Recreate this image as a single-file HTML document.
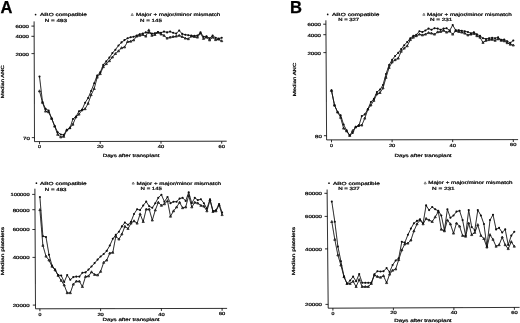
<!DOCTYPE html>
<html lang="en">
<head>
<meta charset="utf-8">
<title>Median ANC and platelet counts after transplant</title>
<style>
html,body{margin:0;padding:0;background:#fff;}
body{width:520px;height:323px;overflow:hidden;font-family:"Liberation Sans",sans-serif;}
svg{display:block;}
</style>
</head>
<body>
<svg width="520" height="323" viewBox="0 0 520 323">
<defs><filter id="soft" x="0" y="0" width="520" height="323" filterUnits="userSpaceOnUse"><feGaussianBlur stdDeviation="0.27"/></filter></defs>
<rect width="520" height="323" fill="#fff"/>
<g font-family="'Liberation Sans', sans-serif" fill="#0a0a0a" stroke="#0a0a0a" stroke-width="0.23" text-rendering="geometricPrecision" font-size="4.45" filter="url(#soft)">
<text x="0.55" y="13.3" font-size="17.4" font-weight="bold" stroke="#000" stroke-width="0.3" fill="#000" textLength="11.9" lengthAdjust="spacingAndGlyphs">A</text>
<text x="290.1" y="12.8" font-size="17.4" font-weight="bold" stroke="#000" stroke-width="0.3" fill="#000" textLength="12.0" lengthAdjust="spacingAndGlyphs">B</text>
<g stroke="#0a0a0a" stroke-width="0.85" fill="none">
<path d="M34.1 21.4L34.5 141.6L226.7 141.2"/>
<path d="M34.1 26.1h-2.7"/>
<path d="M34.1 36.3h-2.7"/>
<path d="M34.2 53.6h-2.7"/>
<path d="M34.5 137.6h-2.7"/>
<path d="M39.5 141.6v2.4"/>
<path d="M100.2 141.5v2.4"/>
<path d="M161.0 141.3v2.4"/>
<path d="M221.7 141.2v2.4"/>
</g>
<text x="15.5" y="28.0" textLength="13.5" lengthAdjust="spacingAndGlyphs">6000</text>
<text x="15.5" y="38.2" textLength="13.5" lengthAdjust="spacingAndGlyphs">4000</text>
<text x="15.5" y="55.5" textLength="13.5" lengthAdjust="spacingAndGlyphs">2000</text>
<text x="23.0" y="139.5" textLength="6.8" lengthAdjust="spacingAndGlyphs">70</text>
<text x="38.0" y="148.2" textLength="2.9" lengthAdjust="spacingAndGlyphs">0</text>
<text x="97.0" y="148.1" textLength="6.4" lengthAdjust="spacingAndGlyphs">20</text>
<text x="157.8" y="147.9" textLength="6.4" lengthAdjust="spacingAndGlyphs">40</text>
<text x="218.5" y="147.8" textLength="6.4" lengthAdjust="spacingAndGlyphs">60</text>
<text x="102.7" y="157.2" textLength="56.8" lengthAdjust="spacingAndGlyphs">Days after transplant</text>
<text transform="translate(4.0 81.8) rotate(-90)" text-anchor="middle" textLength="32.9" lengthAdjust="spacingAndGlyphs">Median ANC</text>
<circle cx="35.6" cy="14.6" r="0.85" fill="#111" stroke="none"/>
<text x="40.0" y="16.0" textLength="46.9" lengthAdjust="spacingAndGlyphs">ABO compatible</text>
<text x="44.8" y="21.5" textLength="22.1" lengthAdjust="spacingAndGlyphs">N = 493</text>
<path d="M132.2 13.4l1.1 2.1h-2.2z" fill="none" stroke="#111" stroke-width="0.5"/>
<text x="136.0" y="16.0" textLength="84.3" lengthAdjust="spacingAndGlyphs">Major + major/minor mismatch</text>
<text x="140.0" y="21.5" textLength="21.9" lengthAdjust="spacingAndGlyphs">N = 145</text>
<polyline points="39.5,76.6 42.5,102.0 45.6,108.9 48.6,110.5 51.6,118.2 54.7,126.0 57.7,132.2 60.8,134.5 63.8,134.9 66.8,129.8 69.9,128.3 72.9,119.0 75.9,116.7 79.0,111.3 82.0,109.7 85.1,102.7 88.1,98.1 91.1,91.0 94.2,83.3 97.2,75.5 100.2,72.4 103.3,64.9 106.3,61.2 109.4,57.6 112.4,53.1 115.4,49.7 118.5,45.5 121.5,42.4 124.5,40.1 127.6,38.3 130.6,37.3 133.6,36.7 136.7,35.5 139.7,34.2 142.8,33.6 145.8,32.4 148.8,32.7 151.9,33.6 154.9,33.2 157.9,32.1 161.0,32.7 164.0,31.6 167.1,32.4 170.1,31.6 173.1,32.7 176.2,33.6 179.2,30.5 182.2,33.9 185.3,34.7 188.3,35.2 191.3,35.5 194.4,35.8 197.4,35.5 200.5,32.4 203.5,36.7 206.5,36.3 209.6,38.3 212.6,35.5 215.6,37.8 218.7,38.6 221.7,37.8" fill="none" stroke="#0a0a0a" stroke-width="0.85" stroke-linejoin="round"/>
<polyline points="39.5,91.0 42.5,102.5 45.6,111.3 48.6,112.0 51.6,118.5 54.7,126.3 57.7,134.5 60.8,137.1 63.8,136.5 66.8,130.1 69.9,127.8 72.9,124.4 75.9,117.0 79.0,114.3 82.0,110.0 85.1,108.9 88.1,103.5 91.1,94.9 94.2,88.7 97.2,77.3 100.2,73.8 103.3,66.9 106.3,63.8 109.4,60.9 112.4,57.2 115.4,53.7 118.5,51.0 121.5,47.9 124.5,47.1 127.6,41.7 130.6,41.4 133.6,40.1 136.7,36.3 139.7,35.5 142.8,34.7 145.8,36.3 148.8,30.1 151.9,35.5 154.9,34.7 157.9,32.4 161.0,34.2 164.0,35.5 167.1,38.3 170.1,37.3 173.1,36.7 176.2,36.3 179.2,35.5 182.2,36.7 185.3,38.3 188.3,38.9 191.3,36.3 194.4,36.7 197.4,37.3 200.5,33.2 203.5,38.6 206.5,37.3 209.6,40.1 212.6,37.3 215.6,39.8 218.7,39.3 221.7,40.9" fill="none" stroke="#0a0a0a" stroke-width="0.85" stroke-linejoin="round"/>
<path d="M39.5 89.8l1.1 2h-2.2zM42.5 101.3l1.1 2h-2.2zM45.6 110.1l1.1 2h-2.2zM48.6 110.8l1.1 2h-2.2zM51.6 117.3l1.1 2h-2.2zM54.7 125.1l1.1 2h-2.2zM57.7 133.3l1.1 2h-2.2zM60.8 135.9l1.1 2h-2.2zM63.8 135.3l1.1 2h-2.2zM66.8 128.9l1.1 2h-2.2zM69.9 126.6l1.1 2h-2.2zM72.9 123.2l1.1 2h-2.2zM75.9 115.8l1.1 2h-2.2zM79.0 113.1l1.1 2h-2.2zM82.0 108.8l1.1 2h-2.2zM85.1 107.7l1.1 2h-2.2zM88.1 102.3l1.1 2h-2.2zM91.1 93.7l1.1 2h-2.2zM94.2 87.5l1.1 2h-2.2zM97.2 76.1l1.1 2h-2.2zM100.2 72.6l1.1 2h-2.2zM103.3 65.7l1.1 2h-2.2zM106.3 62.6l1.1 2h-2.2zM109.4 59.7l1.1 2h-2.2zM112.4 56.0l1.1 2h-2.2zM115.4 52.5l1.1 2h-2.2zM118.5 49.8l1.1 2h-2.2zM121.5 46.7l1.1 2h-2.2zM124.5 45.9l1.1 2h-2.2zM127.6 40.5l1.1 2h-2.2zM130.6 40.2l1.1 2h-2.2zM133.6 38.9l1.1 2h-2.2zM136.7 35.1l1.1 2h-2.2zM139.7 34.3l1.1 2h-2.2zM142.8 33.5l1.1 2h-2.2zM145.8 35.1l1.1 2h-2.2zM148.8 28.9l1.1 2h-2.2zM151.9 34.3l1.1 2h-2.2zM154.9 33.5l1.1 2h-2.2zM157.9 31.2l1.1 2h-2.2zM161.0 33.0l1.1 2h-2.2zM164.0 34.3l1.1 2h-2.2zM167.1 37.1l1.1 2h-2.2zM170.1 36.1l1.1 2h-2.2zM173.1 35.5l1.1 2h-2.2zM176.2 35.1l1.1 2h-2.2zM179.2 34.3l1.1 2h-2.2zM182.2 35.5l1.1 2h-2.2zM185.3 37.1l1.1 2h-2.2zM188.3 37.7l1.1 2h-2.2zM191.3 35.1l1.1 2h-2.2zM194.4 35.5l1.1 2h-2.2zM197.4 36.1l1.1 2h-2.2zM200.5 32.0l1.1 2h-2.2zM203.5 37.4l1.1 2h-2.2zM206.5 36.1l1.1 2h-2.2zM209.6 38.9l1.1 2h-2.2zM212.6 36.1l1.1 2h-2.2zM215.6 38.6l1.1 2h-2.2zM218.7 38.1l1.1 2h-2.2zM221.7 39.7l1.1 2h-2.2z" fill="#0a0a0a" fill-opacity="0.45" stroke="#0a0a0a" stroke-width="0.7" stroke-linejoin="round"/>
<g fill="#0a0a0a" stroke="none"><circle cx="39.5" cy="76.6" r="1.05"/><circle cx="42.5" cy="102.0" r="1.05"/><circle cx="45.6" cy="108.9" r="1.05"/><circle cx="48.6" cy="110.5" r="1.05"/><circle cx="51.6" cy="118.2" r="1.05"/><circle cx="54.7" cy="126.0" r="1.05"/><circle cx="57.7" cy="132.2" r="1.05"/><circle cx="60.8" cy="134.5" r="1.05"/><circle cx="63.8" cy="134.9" r="1.05"/><circle cx="66.8" cy="129.8" r="1.05"/><circle cx="69.9" cy="128.3" r="1.05"/><circle cx="72.9" cy="119.0" r="1.05"/><circle cx="75.9" cy="116.7" r="1.05"/><circle cx="79.0" cy="111.3" r="1.05"/><circle cx="82.0" cy="109.7" r="1.05"/><circle cx="85.1" cy="102.7" r="1.05"/><circle cx="88.1" cy="98.1" r="1.05"/><circle cx="91.1" cy="91.0" r="1.05"/><circle cx="94.2" cy="83.3" r="1.05"/><circle cx="97.2" cy="75.5" r="1.05"/><circle cx="100.2" cy="72.4" r="1.05"/><circle cx="103.3" cy="64.9" r="1.05"/><circle cx="106.3" cy="61.2" r="1.05"/><circle cx="109.4" cy="57.6" r="1.05"/><circle cx="112.4" cy="53.1" r="1.05"/><circle cx="115.4" cy="49.7" r="1.05"/><circle cx="118.5" cy="45.5" r="1.05"/><circle cx="121.5" cy="42.4" r="1.05"/><circle cx="124.5" cy="40.1" r="1.05"/><circle cx="127.6" cy="38.3" r="1.05"/><circle cx="130.6" cy="37.3" r="1.05"/><circle cx="133.6" cy="36.7" r="1.05"/><circle cx="136.7" cy="35.5" r="1.05"/><circle cx="139.7" cy="34.2" r="1.05"/><circle cx="142.8" cy="33.6" r="1.05"/><circle cx="145.8" cy="32.4" r="1.05"/><circle cx="148.8" cy="32.7" r="1.05"/><circle cx="151.9" cy="33.6" r="1.05"/><circle cx="154.9" cy="33.2" r="1.05"/><circle cx="157.9" cy="32.1" r="1.05"/><circle cx="161.0" cy="32.7" r="1.05"/><circle cx="164.0" cy="31.6" r="1.05"/><circle cx="167.1" cy="32.4" r="1.05"/><circle cx="170.1" cy="31.6" r="1.05"/><circle cx="173.1" cy="32.7" r="1.05"/><circle cx="176.2" cy="33.6" r="1.05"/><circle cx="179.2" cy="30.5" r="1.05"/><circle cx="182.2" cy="33.9" r="1.05"/><circle cx="185.3" cy="34.7" r="1.05"/><circle cx="188.3" cy="35.2" r="1.05"/><circle cx="191.3" cy="35.5" r="1.05"/><circle cx="194.4" cy="35.8" r="1.05"/><circle cx="197.4" cy="35.5" r="1.05"/><circle cx="200.5" cy="32.4" r="1.05"/><circle cx="203.5" cy="36.7" r="1.05"/><circle cx="206.5" cy="36.3" r="1.05"/><circle cx="209.6" cy="38.3" r="1.05"/><circle cx="212.6" cy="35.5" r="1.05"/><circle cx="215.6" cy="37.8" r="1.05"/><circle cx="218.7" cy="38.6" r="1.05"/><circle cx="221.7" cy="37.8" r="1.05"/></g>
<g stroke="#0a0a0a" stroke-width="0.85" fill="none">
<path d="M325.9 20.3L326.6 139.9L518.1 139.6"/>
<path d="M325.9 24.2h-2.7"/>
<path d="M326.0 34.7h-2.7"/>
<path d="M326.1 52.6h-2.7"/>
<path d="M326.6 135.7h-2.7"/>
<path d="M331.5 139.9v2.4"/>
<path d="M392.1 139.8v2.4"/>
<path d="M452.7 139.7v2.4"/>
<path d="M513.3 139.6v2.4"/>
</g>
<text x="307.5" y="26.1" textLength="13.5" lengthAdjust="spacingAndGlyphs">6000</text>
<text x="307.5" y="36.6" textLength="13.5" lengthAdjust="spacingAndGlyphs">4000</text>
<text x="307.5" y="54.5" textLength="13.5" lengthAdjust="spacingAndGlyphs">2000</text>
<text x="315.0" y="137.6" textLength="6.8" lengthAdjust="spacingAndGlyphs">80</text>
<text x="330.1" y="146.7" textLength="2.9" lengthAdjust="spacingAndGlyphs">0</text>
<text x="388.9" y="146.6" textLength="6.4" lengthAdjust="spacingAndGlyphs">20</text>
<text x="449.5" y="146.5" textLength="6.4" lengthAdjust="spacingAndGlyphs">40</text>
<text x="510.1" y="146.4" textLength="6.4" lengthAdjust="spacingAndGlyphs">60</text>
<text x="394.5" y="157.2" textLength="57.1" lengthAdjust="spacingAndGlyphs">Days after transplant</text>
<text transform="translate(296.0 79.5) rotate(-90)" text-anchor="middle" textLength="33.5" lengthAdjust="spacingAndGlyphs">Median ANC</text>
<circle cx="327.7" cy="14.4" r="0.85" fill="#111" stroke="none"/>
<text x="332.0" y="15.8" textLength="47.3" lengthAdjust="spacingAndGlyphs">ABO compatible</text>
<text x="338.2" y="20.6" textLength="21.0" lengthAdjust="spacingAndGlyphs">N = 327</text>
<path d="M423.9 13.2l1.1 2.1h-2.2z" fill="none" stroke="#111" stroke-width="0.5"/>
<text x="427.0" y="15.8" textLength="84.7" lengthAdjust="spacingAndGlyphs">Major + major/minor mismatch</text>
<text x="429.9" y="20.8" textLength="22.5" lengthAdjust="spacingAndGlyphs">N = 231</text>
<polyline points="331.5,90.4 334.5,105.1 337.6,112.1 340.6,115.2 343.6,124.5 346.6,130.4 349.7,135.5 352.7,133.0 355.7,126.8 358.8,126.0 361.8,116.0 364.8,114.4 367.9,109.0 370.9,102.0 373.9,98.9 376.9,92.0 380.0,89.6 383.0,85.0 386.0,74.0 389.1,65.0 392.1,59.9 395.1,56.0 398.2,52.9 401.2,49.1 404.2,45.2 407.2,42.1 410.3,38.2 413.3,35.9 416.3,34.8 419.4,31.3 422.4,32.0 425.4,30.5 428.5,28.6 431.5,29.7 434.5,28.2 437.6,28.6 440.6,29.7 443.6,28.6 446.6,28.2 449.7,30.5 452.7,25.1 455.7,30.2 458.8,30.2 461.8,30.8 464.8,31.3 467.9,32.0 470.9,33.3 473.9,32.3 476.9,34.3 480.0,35.9 483.0,38.2 486.0,39.0 489.1,38.2 492.1,37.9 495.1,38.2 498.1,37.4 501.2,39.8 504.2,39.5 507.2,41.3 510.3,42.9 513.3,40.5" fill="none" stroke="#0a0a0a" stroke-width="0.85" stroke-linejoin="round"/>
<polyline points="331.5,90.6 334.5,105.3 337.6,112.2 340.6,117.5 343.6,128.3 346.6,131.1 349.7,135.6 352.7,130.7 355.7,127.1 358.8,125.2 361.8,125.2 364.8,118.3 367.9,109.3 370.9,105.1 373.9,100.5 376.9,94.0 380.0,92.7 383.0,88.1 386.0,77.5 389.1,67.6 392.1,62.2 395.1,59.9 398.2,58.3 401.2,51.4 404.2,48.3 407.2,46.0 410.3,39.8 413.3,37.4 416.3,35.9 419.4,34.3 422.4,35.1 425.4,34.3 428.5,32.8 431.5,33.3 434.5,34.3 437.6,32.0 440.6,31.7 443.6,30.5 446.6,32.3 449.7,31.3 452.7,34.3 455.7,30.8 458.8,31.7 461.8,32.3 464.8,33.3 467.9,35.1 470.9,34.3 473.9,33.6 476.9,35.9 480.0,37.4 483.0,42.6 486.0,40.5 489.1,39.8 492.1,39.5 495.1,40.5 498.1,39.0 501.2,40.5 504.2,41.0 507.2,42.9 510.3,44.4 513.3,45.2" fill="none" stroke="#0a0a0a" stroke-width="0.85" stroke-linejoin="round"/>
<path d="M331.5 89.4l1.1 2h-2.2zM334.5 104.1l1.1 2h-2.2zM337.6 111.0l1.1 2h-2.2zM340.6 116.3l1.1 2h-2.2zM343.6 127.1l1.1 2h-2.2zM346.6 129.9l1.1 2h-2.2zM349.7 134.4l1.1 2h-2.2zM352.7 129.5l1.1 2h-2.2zM355.7 125.9l1.1 2h-2.2zM358.8 124.0l1.1 2h-2.2zM361.8 124.0l1.1 2h-2.2zM364.8 117.1l1.1 2h-2.2zM367.9 108.1l1.1 2h-2.2zM370.9 103.9l1.1 2h-2.2zM373.9 99.3l1.1 2h-2.2zM376.9 92.8l1.1 2h-2.2zM380.0 91.5l1.1 2h-2.2zM383.0 86.9l1.1 2h-2.2zM386.0 76.3l1.1 2h-2.2zM389.1 66.4l1.1 2h-2.2zM392.1 61.0l1.1 2h-2.2zM395.1 58.7l1.1 2h-2.2zM398.2 57.1l1.1 2h-2.2zM401.2 50.2l1.1 2h-2.2zM404.2 47.1l1.1 2h-2.2zM407.2 44.8l1.1 2h-2.2zM410.3 38.6l1.1 2h-2.2zM413.3 36.2l1.1 2h-2.2zM416.3 34.7l1.1 2h-2.2zM419.4 33.1l1.1 2h-2.2zM422.4 33.9l1.1 2h-2.2zM425.4 33.1l1.1 2h-2.2zM428.5 31.6l1.1 2h-2.2zM431.5 32.1l1.1 2h-2.2zM434.5 33.1l1.1 2h-2.2zM437.6 30.8l1.1 2h-2.2zM440.6 30.5l1.1 2h-2.2zM443.6 29.3l1.1 2h-2.2zM446.6 31.1l1.1 2h-2.2zM449.7 30.1l1.1 2h-2.2zM452.7 33.1l1.1 2h-2.2zM455.7 29.6l1.1 2h-2.2zM458.8 30.5l1.1 2h-2.2zM461.8 31.1l1.1 2h-2.2zM464.8 32.1l1.1 2h-2.2zM467.9 33.9l1.1 2h-2.2zM470.9 33.1l1.1 2h-2.2zM473.9 32.4l1.1 2h-2.2zM476.9 34.7l1.1 2h-2.2zM480.0 36.2l1.1 2h-2.2zM483.0 41.4l1.1 2h-2.2zM486.0 39.3l1.1 2h-2.2zM489.1 38.6l1.1 2h-2.2zM492.1 38.3l1.1 2h-2.2zM495.1 39.3l1.1 2h-2.2zM498.1 37.8l1.1 2h-2.2zM501.2 39.3l1.1 2h-2.2zM504.2 39.8l1.1 2h-2.2zM507.2 41.7l1.1 2h-2.2zM510.3 43.2l1.1 2h-2.2zM513.3 44.0l1.1 2h-2.2z" fill="#0a0a0a" fill-opacity="0.45" stroke="#0a0a0a" stroke-width="0.7" stroke-linejoin="round"/>
<g fill="#0a0a0a" stroke="none"><circle cx="331.5" cy="90.4" r="1.05"/><circle cx="334.5" cy="105.1" r="1.05"/><circle cx="337.6" cy="112.1" r="1.05"/><circle cx="340.6" cy="115.2" r="1.05"/><circle cx="343.6" cy="124.5" r="1.05"/><circle cx="346.6" cy="130.4" r="1.05"/><circle cx="349.7" cy="135.5" r="1.05"/><circle cx="352.7" cy="133.0" r="1.05"/><circle cx="355.7" cy="126.8" r="1.05"/><circle cx="358.8" cy="126.0" r="1.05"/><circle cx="361.8" cy="116.0" r="1.05"/><circle cx="364.8" cy="114.4" r="1.05"/><circle cx="367.9" cy="109.0" r="1.05"/><circle cx="370.9" cy="102.0" r="1.05"/><circle cx="373.9" cy="98.9" r="1.05"/><circle cx="376.9" cy="92.0" r="1.05"/><circle cx="380.0" cy="89.6" r="1.05"/><circle cx="383.0" cy="85.0" r="1.05"/><circle cx="386.0" cy="74.0" r="1.05"/><circle cx="389.1" cy="65.0" r="1.05"/><circle cx="392.1" cy="59.9" r="1.05"/><circle cx="395.1" cy="56.0" r="1.05"/><circle cx="398.2" cy="52.9" r="1.05"/><circle cx="401.2" cy="49.1" r="1.05"/><circle cx="404.2" cy="45.2" r="1.05"/><circle cx="407.2" cy="42.1" r="1.05"/><circle cx="410.3" cy="38.2" r="1.05"/><circle cx="413.3" cy="35.9" r="1.05"/><circle cx="416.3" cy="34.8" r="1.05"/><circle cx="419.4" cy="31.3" r="1.05"/><circle cx="422.4" cy="32.0" r="1.05"/><circle cx="425.4" cy="30.5" r="1.05"/><circle cx="428.5" cy="28.6" r="1.05"/><circle cx="431.5" cy="29.7" r="1.05"/><circle cx="434.5" cy="28.2" r="1.05"/><circle cx="437.6" cy="28.6" r="1.05"/><circle cx="440.6" cy="29.7" r="1.05"/><circle cx="443.6" cy="28.6" r="1.05"/><circle cx="446.6" cy="28.2" r="1.05"/><circle cx="449.7" cy="30.5" r="1.05"/><circle cx="452.7" cy="25.1" r="1.05"/><circle cx="455.7" cy="30.2" r="1.05"/><circle cx="458.8" cy="30.2" r="1.05"/><circle cx="461.8" cy="30.8" r="1.05"/><circle cx="464.8" cy="31.3" r="1.05"/><circle cx="467.9" cy="32.0" r="1.05"/><circle cx="470.9" cy="33.3" r="1.05"/><circle cx="473.9" cy="32.3" r="1.05"/><circle cx="476.9" cy="34.3" r="1.05"/><circle cx="480.0" cy="35.9" r="1.05"/><circle cx="483.0" cy="38.2" r="1.05"/><circle cx="486.0" cy="39.0" r="1.05"/><circle cx="489.1" cy="38.2" r="1.05"/><circle cx="492.1" cy="37.9" r="1.05"/><circle cx="495.1" cy="38.2" r="1.05"/><circle cx="498.1" cy="37.4" r="1.05"/><circle cx="501.2" cy="39.8" r="1.05"/><circle cx="504.2" cy="39.5" r="1.05"/><circle cx="507.2" cy="41.3" r="1.05"/><circle cx="510.3" cy="42.9" r="1.05"/><circle cx="513.3" cy="40.5" r="1.05"/></g>
<g stroke="#0a0a0a" stroke-width="0.85" fill="none">
<path d="M34.9 188.7L35.5 308.8L227.1 308.4"/>
<path d="M34.9 194.4h-2.7"/>
<path d="M35.0 209.7h-2.7"/>
<path d="M35.1 229.5h-2.7"/>
<path d="M35.2 257.4h-2.7"/>
<path d="M35.5 305.1h-2.7"/>
<path d="M39.9 308.8v2.4"/>
<path d="M100.6 308.7v2.4"/>
<path d="M161.4 308.5v2.4"/>
<path d="M222.1 308.4v2.4"/>
</g>
<text x="10.6" y="196.3" textLength="19.0" lengthAdjust="spacingAndGlyphs">100000</text>
<text x="12.7" y="211.6" textLength="16.9" lengthAdjust="spacingAndGlyphs">80000</text>
<text x="12.7" y="231.4" textLength="16.9" lengthAdjust="spacingAndGlyphs">60000</text>
<text x="12.7" y="259.3" textLength="16.9" lengthAdjust="spacingAndGlyphs">40000</text>
<text x="12.7" y="307.0" textLength="16.9" lengthAdjust="spacingAndGlyphs">20000</text>
<text x="38.4" y="315.8" textLength="2.9" lengthAdjust="spacingAndGlyphs">0</text>
<text x="97.4" y="315.7" textLength="6.4" lengthAdjust="spacingAndGlyphs">20</text>
<text x="158.2" y="315.5" textLength="6.4" lengthAdjust="spacingAndGlyphs">40</text>
<text x="218.9" y="315.4" textLength="6.4" lengthAdjust="spacingAndGlyphs">60</text>
<text x="102.6" y="321.2" textLength="57.0" lengthAdjust="spacingAndGlyphs">Days after transplant</text>
<text transform="translate(4.4 251.2) rotate(-90)" text-anchor="middle" textLength="48.3" lengthAdjust="spacingAndGlyphs">Median platelets</text>
<circle cx="36.4" cy="183.2" r="0.85" fill="#111" stroke="none"/>
<text x="40.0" y="184.6" textLength="46.6" lengthAdjust="spacingAndGlyphs">ABO compatible</text>
<text x="44.8" y="190.7" textLength="21.7" lengthAdjust="spacingAndGlyphs">N = 493</text>
<path d="M133.2 182.0l1.1 2.1h-2.2z" fill="none" stroke="#111" stroke-width="0.5"/>
<text x="136.5" y="184.6" textLength="84.5" lengthAdjust="spacingAndGlyphs">Major + major/minor mismatch</text>
<text x="140.6" y="190.4" textLength="21.4" lengthAdjust="spacingAndGlyphs">N = 145</text>
<polyline points="39.9,197.0 42.9,236.2 46.0,237.0 49.0,254.8 52.0,265.6 55.1,269.6 58.1,275.1 61.2,275.5 64.2,282.0 67.2,275.1 70.3,279.7 73.3,277.1 76.3,276.6 79.4,276.6 82.4,272.7 85.5,272.4 88.5,269.6 91.5,266.5 94.6,263.1 97.6,259.6 100.6,256.5 103.7,254.0 106.7,250.9 109.8,245.5 112.8,238.8 115.8,234.9 118.9,231.8 121.9,226.4 124.9,222.5 128.0,224.8 131.0,221.7 134.0,214.0 137.1,209.3 140.1,210.1 143.2,205.5 146.2,201.6 149.2,206.3 152.3,207.8 155.3,203.2 158.3,197.7 161.4,194.7 164.4,201.7 167.5,197.0 170.5,203.2 173.5,201.7 176.6,201.7 179.6,198.6 182.6,197.8 185.7,200.9 188.7,192.4 191.8,203.2 194.8,197.8 197.8,200.1 200.9,199.3 203.9,203.2 206.9,208.6 210.0,199.3 213.0,211.0 216.0,210.2 219.1,204.0 222.1,212.5" fill="none" stroke="#0a0a0a" stroke-width="0.85" stroke-linejoin="round"/>
<polyline points="39.9,209.8 42.9,245.5 46.0,256.3 49.0,260.2 52.0,266.4 55.1,270.0 58.1,275.5 61.2,280.5 64.2,285.1 67.2,292.9 70.3,292.9 73.3,284.3 76.3,281.3 79.4,281.3 82.4,286.7 85.5,276.6 88.5,276.1 91.5,272.0 94.6,274.6 97.6,275.1 100.6,271.5 103.7,262.5 106.7,260.2 109.8,253.2 112.8,252.5 115.8,236.4 118.9,239.2 121.9,234.1 124.9,226.4 128.0,228.7 131.0,223.3 134.0,221.0 137.1,223.3 140.1,214.0 143.2,221.7 146.2,209.3 149.2,209.3 152.3,220.2 155.3,210.1 158.3,202.4 161.4,205.5 164.4,204.0 167.5,200.9 170.5,216.4 173.5,211.0 176.6,207.1 179.6,202.4 182.6,207.9 185.7,207.1 188.7,195.5 191.8,207.1 194.8,202.4 197.8,203.2 200.9,205.5 203.9,206.3 206.9,211.0 210.0,200.1 213.0,211.7 216.0,211.0 219.1,204.8 222.1,214.8" fill="none" stroke="#0a0a0a" stroke-width="0.85" stroke-linejoin="round"/>
<path d="M39.9 208.6l1.1 2h-2.2zM42.9 244.3l1.1 2h-2.2zM46.0 255.1l1.1 2h-2.2zM49.0 259.0l1.1 2h-2.2zM52.0 265.2l1.1 2h-2.2zM55.1 268.8l1.1 2h-2.2zM58.1 274.3l1.1 2h-2.2zM61.2 279.3l1.1 2h-2.2zM64.2 283.9l1.1 2h-2.2zM67.2 291.7l1.1 2h-2.2zM70.3 291.7l1.1 2h-2.2zM73.3 283.1l1.1 2h-2.2zM76.3 280.1l1.1 2h-2.2zM79.4 280.1l1.1 2h-2.2zM82.4 285.5l1.1 2h-2.2zM85.5 275.4l1.1 2h-2.2zM88.5 274.9l1.1 2h-2.2zM91.5 270.8l1.1 2h-2.2zM94.6 273.4l1.1 2h-2.2zM97.6 273.9l1.1 2h-2.2zM100.6 270.3l1.1 2h-2.2zM103.7 261.3l1.1 2h-2.2zM106.7 259.0l1.1 2h-2.2zM109.8 252.0l1.1 2h-2.2zM112.8 251.3l1.1 2h-2.2zM115.8 235.2l1.1 2h-2.2zM118.9 238.0l1.1 2h-2.2zM121.9 232.9l1.1 2h-2.2zM124.9 225.2l1.1 2h-2.2zM128.0 227.5l1.1 2h-2.2zM131.0 222.1l1.1 2h-2.2zM134.0 219.8l1.1 2h-2.2zM137.1 222.1l1.1 2h-2.2zM140.1 212.8l1.1 2h-2.2zM143.2 220.5l1.1 2h-2.2zM146.2 208.1l1.1 2h-2.2zM149.2 208.1l1.1 2h-2.2zM152.3 219.0l1.1 2h-2.2zM155.3 208.9l1.1 2h-2.2zM158.3 201.2l1.1 2h-2.2zM161.4 204.3l1.1 2h-2.2zM164.4 202.8l1.1 2h-2.2zM167.5 199.7l1.1 2h-2.2zM170.5 215.2l1.1 2h-2.2zM173.5 209.8l1.1 2h-2.2zM176.6 205.9l1.1 2h-2.2zM179.6 201.2l1.1 2h-2.2zM182.6 206.7l1.1 2h-2.2zM185.7 205.9l1.1 2h-2.2zM188.7 194.3l1.1 2h-2.2zM191.8 205.9l1.1 2h-2.2zM194.8 201.2l1.1 2h-2.2zM197.8 202.0l1.1 2h-2.2zM200.9 204.3l1.1 2h-2.2zM203.9 205.1l1.1 2h-2.2zM206.9 209.8l1.1 2h-2.2zM210.0 198.9l1.1 2h-2.2zM213.0 210.5l1.1 2h-2.2zM216.0 209.8l1.1 2h-2.2zM219.1 203.6l1.1 2h-2.2zM222.1 213.6l1.1 2h-2.2z" fill="#0a0a0a" fill-opacity="0.45" stroke="#0a0a0a" stroke-width="0.7" stroke-linejoin="round"/>
<g fill="#0a0a0a" stroke="none"><circle cx="39.9" cy="197.0" r="1.05"/><circle cx="42.9" cy="236.2" r="1.05"/><circle cx="46.0" cy="237.0" r="1.05"/><circle cx="49.0" cy="254.8" r="1.05"/><circle cx="52.0" cy="265.6" r="1.05"/><circle cx="55.1" cy="269.6" r="1.05"/><circle cx="58.1" cy="275.1" r="1.05"/><circle cx="61.2" cy="275.5" r="1.05"/><circle cx="64.2" cy="282.0" r="1.05"/><circle cx="67.2" cy="275.1" r="1.05"/><circle cx="70.3" cy="279.7" r="1.05"/><circle cx="73.3" cy="277.1" r="1.05"/><circle cx="76.3" cy="276.6" r="1.05"/><circle cx="79.4" cy="276.6" r="1.05"/><circle cx="82.4" cy="272.7" r="1.05"/><circle cx="85.5" cy="272.4" r="1.05"/><circle cx="88.5" cy="269.6" r="1.05"/><circle cx="91.5" cy="266.5" r="1.05"/><circle cx="94.6" cy="263.1" r="1.05"/><circle cx="97.6" cy="259.6" r="1.05"/><circle cx="100.6" cy="256.5" r="1.05"/><circle cx="103.7" cy="254.0" r="1.05"/><circle cx="106.7" cy="250.9" r="1.05"/><circle cx="109.8" cy="245.5" r="1.05"/><circle cx="112.8" cy="238.8" r="1.05"/><circle cx="115.8" cy="234.9" r="1.05"/><circle cx="118.9" cy="231.8" r="1.05"/><circle cx="121.9" cy="226.4" r="1.05"/><circle cx="124.9" cy="222.5" r="1.05"/><circle cx="128.0" cy="224.8" r="1.05"/><circle cx="131.0" cy="221.7" r="1.05"/><circle cx="134.0" cy="214.0" r="1.05"/><circle cx="137.1" cy="209.3" r="1.05"/><circle cx="140.1" cy="210.1" r="1.05"/><circle cx="143.2" cy="205.5" r="1.05"/><circle cx="146.2" cy="201.6" r="1.05"/><circle cx="149.2" cy="206.3" r="1.05"/><circle cx="152.3" cy="207.8" r="1.05"/><circle cx="155.3" cy="203.2" r="1.05"/><circle cx="158.3" cy="197.7" r="1.05"/><circle cx="161.4" cy="194.7" r="1.05"/><circle cx="164.4" cy="201.7" r="1.05"/><circle cx="167.5" cy="197.0" r="1.05"/><circle cx="170.5" cy="203.2" r="1.05"/><circle cx="173.5" cy="201.7" r="1.05"/><circle cx="176.6" cy="201.7" r="1.05"/><circle cx="179.6" cy="198.6" r="1.05"/><circle cx="182.6" cy="197.8" r="1.05"/><circle cx="185.7" cy="200.9" r="1.05"/><circle cx="188.7" cy="192.4" r="1.05"/><circle cx="191.8" cy="203.2" r="1.05"/><circle cx="194.8" cy="197.8" r="1.05"/><circle cx="197.8" cy="200.1" r="1.05"/><circle cx="200.9" cy="199.3" r="1.05"/><circle cx="203.9" cy="203.2" r="1.05"/><circle cx="206.9" cy="208.6" r="1.05"/><circle cx="210.0" cy="199.3" r="1.05"/><circle cx="213.0" cy="211.0" r="1.05"/><circle cx="216.0" cy="210.2" r="1.05"/><circle cx="219.1" cy="204.0" r="1.05"/><circle cx="222.1" cy="212.5" r="1.05"/></g>
<g stroke="#0a0a0a" stroke-width="0.85" fill="none">
<path d="M327.1 189.5L328.2 308.2L519.6 307.4"/>
<path d="M327.1 193.3h-2.7"/>
<path d="M327.3 216.4h-2.7"/>
<path d="M327.7 248.9h-2.7"/>
<path d="M328.2 304.4h-2.7"/>
<path d="M332.9 308.2v2.4"/>
<path d="M393.4 307.9v2.4"/>
<path d="M453.9 307.7v2.4"/>
<path d="M514.4 307.4v2.4"/>
</g>
<text x="305.0" y="195.2" textLength="16.9" lengthAdjust="spacingAndGlyphs">80000</text>
<text x="305.0" y="218.3" textLength="16.9" lengthAdjust="spacingAndGlyphs">60000</text>
<text x="305.0" y="250.8" textLength="16.9" lengthAdjust="spacingAndGlyphs">40000</text>
<text x="305.0" y="306.3" textLength="16.9" lengthAdjust="spacingAndGlyphs">20000</text>
<text x="331.4" y="314.5" textLength="2.9" lengthAdjust="spacingAndGlyphs">0</text>
<text x="390.2" y="314.2" textLength="6.4" lengthAdjust="spacingAndGlyphs">20</text>
<text x="450.7" y="314.0" textLength="6.4" lengthAdjust="spacingAndGlyphs">40</text>
<text x="511.2" y="313.7" textLength="6.4" lengthAdjust="spacingAndGlyphs">60</text>
<text x="394.3" y="321.5" textLength="57.3" lengthAdjust="spacingAndGlyphs">Days after transplant</text>
<text transform="translate(295.0 251.2) rotate(-90)" text-anchor="middle" textLength="48.3" lengthAdjust="spacingAndGlyphs">Median platelets</text>
<circle cx="329.0" cy="183.2" r="0.85" fill="#111" stroke="none"/>
<text x="332.9" y="184.6" textLength="46.9" lengthAdjust="spacingAndGlyphs">ABO compatible</text>
<text x="338.2" y="189.7" textLength="21.6" lengthAdjust="spacingAndGlyphs">N = 327</text>
<path d="M425.2 181.8l1.1 2.1h-2.2z" fill="none" stroke="#111" stroke-width="0.5"/>
<text x="428.3" y="184.4" textLength="84.2" lengthAdjust="spacingAndGlyphs">Major + major/minor mismatch</text>
<text x="432.0" y="189.7" textLength="22.6" lengthAdjust="spacingAndGlyphs">N = 231</text>
<polyline points="331.8,201.6 334.8,221.7 337.9,246.6 340.9,261.3 344.0,276.6 347.0,283.6 350.1,280.5 353.1,276.6 356.1,281.3 359.2,274.0 362.2,282.8 365.3,282.8 368.3,282.8 371.3,282.8 374.4,274.3 377.4,271.2 380.5,271.5 383.5,271.2 386.6,268.1 389.6,272.0 392.6,265.0 395.7,260.5 398.7,258.2 401.8,241.8 404.8,242.6 407.9,234.8 410.9,228.6 413.9,223.2 417.0,220.9 420.0,219.3 423.1,223.2 426.1,205.4 429.1,210.1 432.2,207.0 435.2,209.3 438.3,210.8 441.3,215.5 444.4,230.2 447.4,209.3 450.4,217.8 453.5,215.5 456.5,211.6 459.6,210.8 462.6,220.1 465.6,235.6 468.7,210.1 471.7,227.1 474.8,230.2 477.8,210.1 480.9,215.5 483.9,224.0 486.9,246.4 490.0,220.1 493.0,214.7 496.1,229.4 499.1,227.9 502.2,232.5 505.2,229.4 508.2,244.9 511.3,235.6 514.3,231.7" fill="none" stroke="#0a0a0a" stroke-width="0.85" stroke-linejoin="round"/>
<polyline points="331.8,221.7 334.8,239.5 337.9,255.1 340.9,265.2 344.0,276.8 347.0,283.7 350.1,283.6 353.1,281.3 356.1,286.7 359.2,279.7 362.2,286.7 365.3,286.7 368.3,286.7 371.3,283.6 374.4,275.1 377.4,276.6 380.5,277.4 383.5,275.8 386.6,282.8 389.6,274.3 392.6,270.4 395.7,269.1 398.7,259.8 401.8,250.0 404.8,244.1 407.9,243.3 410.9,240.2 413.9,231.0 417.0,224.0 420.0,220.1 423.1,224.0 426.1,218.6 429.1,220.1 432.2,221.7 435.2,217.0 438.3,211.6 441.3,229.4 444.4,231.0 447.4,220.1 450.4,224.0 453.5,233.3 456.5,223.2 459.6,226.3 462.6,235.6 465.6,236.4 468.7,223.2 471.7,234.8 474.8,232.5 477.8,224.8 480.9,235.6 483.9,238.7 486.9,247.2 490.0,234.8 493.0,239.5 496.1,246.4 499.1,244.9 502.2,237.2 505.2,244.9 508.2,248.8 511.3,241.8 514.3,246.4" fill="none" stroke="#0a0a0a" stroke-width="0.85" stroke-linejoin="round"/>
<path d="M331.8 220.5l1.1 2h-2.2zM334.8 238.3l1.1 2h-2.2zM337.9 253.9l1.1 2h-2.2zM340.9 264.0l1.1 2h-2.2zM344.0 275.6l1.1 2h-2.2zM347.0 282.5l1.1 2h-2.2zM350.1 282.4l1.1 2h-2.2zM353.1 280.1l1.1 2h-2.2zM356.1 285.5l1.1 2h-2.2zM359.2 278.5l1.1 2h-2.2zM362.2 285.5l1.1 2h-2.2zM365.3 285.5l1.1 2h-2.2zM368.3 285.5l1.1 2h-2.2zM371.3 282.4l1.1 2h-2.2zM374.4 273.9l1.1 2h-2.2zM377.4 275.4l1.1 2h-2.2zM380.5 276.2l1.1 2h-2.2zM383.5 274.6l1.1 2h-2.2zM386.6 281.6l1.1 2h-2.2zM389.6 273.1l1.1 2h-2.2zM392.6 269.2l1.1 2h-2.2zM395.7 267.9l1.1 2h-2.2zM398.7 258.6l1.1 2h-2.2zM401.8 248.8l1.1 2h-2.2zM404.8 242.9l1.1 2h-2.2zM407.9 242.1l1.1 2h-2.2zM410.9 239.0l1.1 2h-2.2zM413.9 229.8l1.1 2h-2.2zM417.0 222.8l1.1 2h-2.2zM420.0 218.9l1.1 2h-2.2zM423.1 222.8l1.1 2h-2.2zM426.1 217.4l1.1 2h-2.2zM429.1 218.9l1.1 2h-2.2zM432.2 220.5l1.1 2h-2.2zM435.2 215.8l1.1 2h-2.2zM438.3 210.4l1.1 2h-2.2zM441.3 228.2l1.1 2h-2.2zM444.4 229.8l1.1 2h-2.2zM447.4 218.9l1.1 2h-2.2zM450.4 222.8l1.1 2h-2.2zM453.5 232.1l1.1 2h-2.2zM456.5 222.0l1.1 2h-2.2zM459.6 225.1l1.1 2h-2.2zM462.6 234.4l1.1 2h-2.2zM465.6 235.2l1.1 2h-2.2zM468.7 222.0l1.1 2h-2.2zM471.7 233.6l1.1 2h-2.2zM474.8 231.3l1.1 2h-2.2zM477.8 223.6l1.1 2h-2.2zM480.9 234.4l1.1 2h-2.2zM483.9 237.5l1.1 2h-2.2zM486.9 246.0l1.1 2h-2.2zM490.0 233.6l1.1 2h-2.2zM493.0 238.3l1.1 2h-2.2zM496.1 245.2l1.1 2h-2.2zM499.1 243.7l1.1 2h-2.2zM502.2 236.0l1.1 2h-2.2zM505.2 243.7l1.1 2h-2.2zM508.2 247.6l1.1 2h-2.2zM511.3 240.6l1.1 2h-2.2zM514.3 245.2l1.1 2h-2.2z" fill="#0a0a0a" fill-opacity="0.45" stroke="#0a0a0a" stroke-width="0.7" stroke-linejoin="round"/>
<g fill="#0a0a0a" stroke="none"><circle cx="331.8" cy="201.6" r="1.05"/><circle cx="334.8" cy="221.7" r="1.05"/><circle cx="337.9" cy="246.6" r="1.05"/><circle cx="340.9" cy="261.3" r="1.05"/><circle cx="344.0" cy="276.6" r="1.05"/><circle cx="347.0" cy="283.6" r="1.05"/><circle cx="350.1" cy="280.5" r="1.05"/><circle cx="353.1" cy="276.6" r="1.05"/><circle cx="356.1" cy="281.3" r="1.05"/><circle cx="359.2" cy="274.0" r="1.05"/><circle cx="362.2" cy="282.8" r="1.05"/><circle cx="365.3" cy="282.8" r="1.05"/><circle cx="368.3" cy="282.8" r="1.05"/><circle cx="371.3" cy="282.8" r="1.05"/><circle cx="374.4" cy="274.3" r="1.05"/><circle cx="377.4" cy="271.2" r="1.05"/><circle cx="380.5" cy="271.5" r="1.05"/><circle cx="383.5" cy="271.2" r="1.05"/><circle cx="386.6" cy="268.1" r="1.05"/><circle cx="389.6" cy="272.0" r="1.05"/><circle cx="392.6" cy="265.0" r="1.05"/><circle cx="395.7" cy="260.5" r="1.05"/><circle cx="398.7" cy="258.2" r="1.05"/><circle cx="401.8" cy="241.8" r="1.05"/><circle cx="404.8" cy="242.6" r="1.05"/><circle cx="407.9" cy="234.8" r="1.05"/><circle cx="410.9" cy="228.6" r="1.05"/><circle cx="413.9" cy="223.2" r="1.05"/><circle cx="417.0" cy="220.9" r="1.05"/><circle cx="420.0" cy="219.3" r="1.05"/><circle cx="423.1" cy="223.2" r="1.05"/><circle cx="426.1" cy="205.4" r="1.05"/><circle cx="429.1" cy="210.1" r="1.05"/><circle cx="432.2" cy="207.0" r="1.05"/><circle cx="435.2" cy="209.3" r="1.05"/><circle cx="438.3" cy="210.8" r="1.05"/><circle cx="441.3" cy="215.5" r="1.05"/><circle cx="444.4" cy="230.2" r="1.05"/><circle cx="447.4" cy="209.3" r="1.05"/><circle cx="450.4" cy="217.8" r="1.05"/><circle cx="453.5" cy="215.5" r="1.05"/><circle cx="456.5" cy="211.6" r="1.05"/><circle cx="459.6" cy="210.8" r="1.05"/><circle cx="462.6" cy="220.1" r="1.05"/><circle cx="465.6" cy="235.6" r="1.05"/><circle cx="468.7" cy="210.1" r="1.05"/><circle cx="471.7" cy="227.1" r="1.05"/><circle cx="474.8" cy="230.2" r="1.05"/><circle cx="477.8" cy="210.1" r="1.05"/><circle cx="480.9" cy="215.5" r="1.05"/><circle cx="483.9" cy="224.0" r="1.05"/><circle cx="486.9" cy="246.4" r="1.05"/><circle cx="490.0" cy="220.1" r="1.05"/><circle cx="493.0" cy="214.7" r="1.05"/><circle cx="496.1" cy="229.4" r="1.05"/><circle cx="499.1" cy="227.9" r="1.05"/><circle cx="502.2" cy="232.5" r="1.05"/><circle cx="505.2" cy="229.4" r="1.05"/><circle cx="508.2" cy="244.9" r="1.05"/><circle cx="511.3" cy="235.6" r="1.05"/><circle cx="514.3" cy="231.7" r="1.05"/></g>
</g></svg>
</body>
</html>
